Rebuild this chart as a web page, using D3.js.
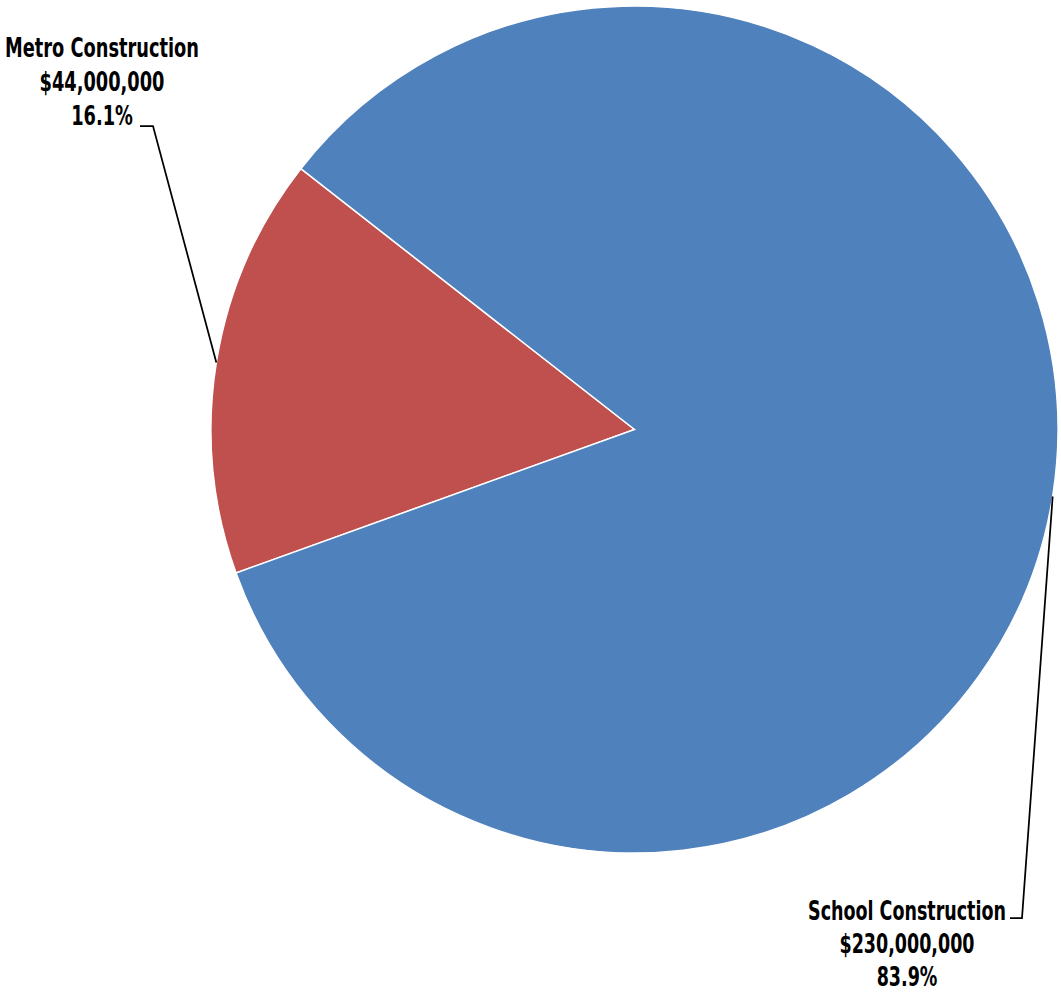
<!DOCTYPE html>
<html><head><meta charset="utf-8">
<script src="https://cdn.jsdelivr.net/npm/d3@7"></script>
<style>html,body{margin:0;padding:0;background:#fff;}svg{display:block;}</style>
</head><body>
<svg id="c" width="1061" height="998"></svg>
<script>
const categories = ["Metro Construction", "School Construction"];
const values = [44000000, 230000000];
const percentLabels = ["16.1%", "83.9%"];
const colors = ["#C0504D", "#4F81BD"];

const svg = d3.select("#c");
const cx = 634.5, cy = 429.5, R = 423.5;
const g = svg.append("g").attr("transform", `translate(${cx},${cy})`);
const start = 250.2 * Math.PI / 180;
const pie = d3.pie().sort(null).startAngle(start).endAngle(start + 2 * Math.PI);
const arcs = pie(values);
const arc = d3.arc().innerRadius(0).outerRadius(R);
g.selectAll("path.s").data(arcs).join("path")
  .attr("class", "s")
  .attr("d", arc)
  .attr("fill", (d, i) => colors[i])
  .attr("stroke", "#fff").attr("stroke-width", 1.5);

const fmt = d3.format("$,");
const layout = [
  {elbow: [153, 126], end: [140, 126], tx: 102, ty: 57, w: 194, gap: 34},
  {elbow: [1022, 918], end: [1010, 918], tx: 907, ty: 920, w: 198, gap: 33}
];
arcs.forEach((d, i) => {
  const mid = (d.startAngle + d.endAngle) / 2;
  const px = cx + R * Math.sin(mid), py = cy - R * Math.cos(mid);
  const L = layout[i];
  svg.append("polyline")
    .attr("points", [[px, py], L.elbow, L.end].map(p => p.join(",")).join(" "))
    .attr("fill", "none").attr("stroke", "#000").attr("stroke-width", 1.75);
  const tg = svg.append("g");
  const t = tg.append("text")
    .attr("x", 0).attr("y", 0)
    .attr("text-anchor", "middle")
    .attr("font-family", "'DejaVu Sans Condensed','Liberation Sans Narrow',sans-serif")
    .attr("font-weight", "bold").attr("font-size", 27).attr("fill", "#000");
  const spans = [categories[i], fmt(values[i]), percentLabels[i]].map((s, k) =>
    t.append("tspan").attr("x", 0).attr("dy", k === 0 ? 0 : L.gap).text(s));
  const w0 = spans[0].node().getComputedTextLength();
  const sx = L.w / w0;
  tg.attr("transform", `translate(${L.tx},${L.ty}) scale(${sx},1)`);
});
</script>
</body></html>
